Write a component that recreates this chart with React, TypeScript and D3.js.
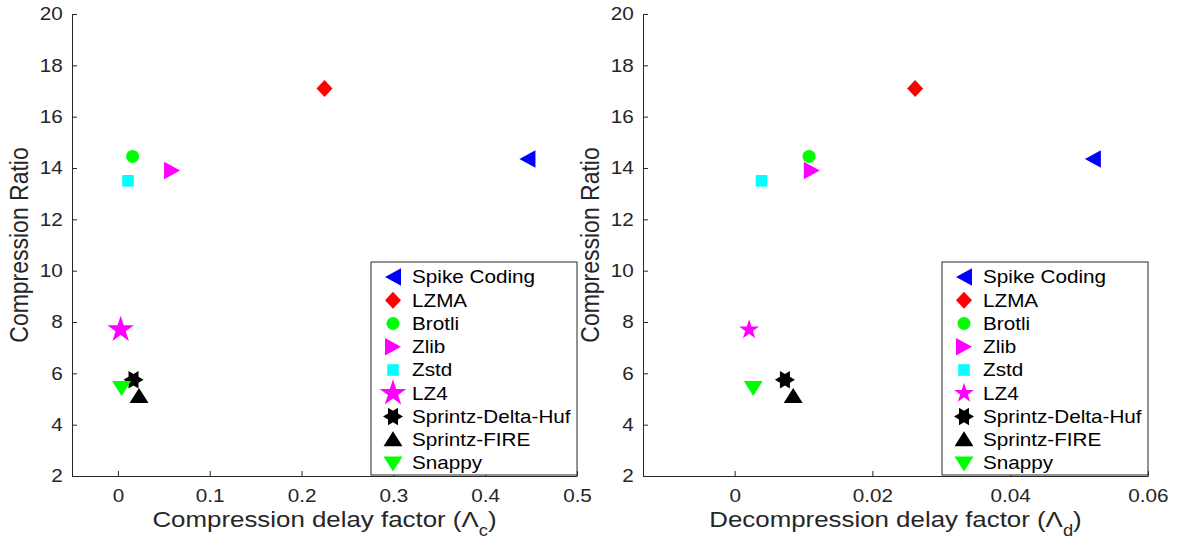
import React, { useEffect, useRef } from 'react';
import * as d3 from 'd3';

// methods, in legend order
const methods = ['Spike Coding', 'LZMA', 'Brotli', 'Zlib', 'Zstd', 'LZ4', 'Sprintz-Delta-Huf', 'Sprintz-FIRE', 'Snappy'];
const shapes = ['left', 'diamond', 'circle', 'right', 'square', 'star', 'hexagram', 'up', 'down'];
const colors = ['#0000ff', '#ff0000', '#00ff00', '#ff00ff', '#00ffff', '#ff00ff', '#000000', '#000000', '#00ff00'];

// y value shared by both panels
const compressionRatio = [14.35, 17.1, 14.45, 13.9, 13.5, 7.7, 5.75, 5.1, 5.45];
// x values
const compDelay = [0.446, 0.225, 0.016, 0.059, 0.011, 0.003, 0.017, 0.023, 0.004];
const decompDelay = [0.052, 0.0262, 0.0108, 0.0112, 0.0039, 0.0021, 0.0073, 0.0085, 0.0027];

const yTicks = [2, 4, 6, 8, 10, 12, 14, 16, 18, 20];
const compTicks = [0, 0.1, 0.2, 0.3, 0.4, 0.5];
const decompTicks = [0, 0.02, 0.04, 0.06];

const FONT = 'Liberation Sans, Arial, Helvetica, sans-serif';
const INK = '#262626';
const SX = 1.15; // text in the reference is a bit wider than tall

const poly = (pts: number[][]) => 'M' + pts.map(p => p.map(v => v.toFixed(2)).join(',')).join('L') + 'Z';

const radial = (n: number, outer: number, inner: number, start: number) => {
    const pts: number[][] = [];
    for (let i = 0; i < 2 * n; i++) {
        const a = start + (i * Math.PI) / n;
        const rr = i % 2 === 0 ? outer : inner;
        pts.push([rr * Math.cos(a), rr * Math.sin(a)]);
    }
    return pts;
};

const markerPath = (shape: string, starR: number) => {
    switch (shape) {
        case 'left': return poly([[-8, 0], [8, -8.7], [8, 8.7]]);
        case 'right': return poly([[8, 0], [-8, -8.7], [-8, 8.7]]);
        case 'up': return poly([[0, -8.5], [9.5, 6.5], [-9.5, 6.5]]);
        case 'down': return poly([[0, 8.5], [9.5, -6.5], [-9.5, -6.5]]);
        case 'diamond': return poly([[0, -8.5], [8, 0], [0, 8.5], [-8, 0]]);
        case 'square': return poly([[-5.8, -5.8], [5.8, -5.8], [5.8, 5.8], [-5.8, 5.8]]);
        case 'star': return poly(radial(5, starR, starR * 0.382, -Math.PI / 2));
        case 'hexagram': return poly(radial(6, 10, 10 / Math.sqrt(3), 0));
        default: return d3.symbol(d3.symbolCircle, Math.PI * 6.5 * 6.5)() as string;
    }
};

const Panel = ({ offset, xValues, xDomain, xTicks, xName, sub, starR }: any) => {
    const gRef = useRef<SVGGElement>(null);

    useEffect(() => {
        const g = d3.select(gRef.current);
        g.selectAll('*').remove();

        const left = offset + 72;
        const right = offset + 577;
        const top = 14;
        const bottom = 476;

        const x = d3.scaleLinear().domain(xDomain).range([left, right]);
        const y = d3.scaleLinear().domain([2, 20]).range([bottom, top]);

        const xAxis = d3.axisBottom(x)
            .tickValues(xTicks)
            .tickFormat((d: any) => String(d))
            .tickSize(-5)
            .tickSizeOuter(0)
            .tickPadding(13);
        const yAxis = d3.axisLeft(y)
            .tickValues(yTicks)
            .tickFormat((d: any) => String(d))
            .tickSize(-5)
            .tickSizeOuter(0)
            .tickPadding(8);

        const gx = g.append('g').attr('transform', `translate(0,${bottom})`).call(xAxis);
        const gy = g.append('g').attr('transform', `translate(${left},0)`).call(yAxis);

        [gx, gy].forEach(ax => {
            ax.select('.domain').attr('stroke', INK);
            ax.selectAll('.tick line').attr('stroke', INK);
            ax.selectAll('.tick text')
                .attr('fill', INK)
                .style('font-family', FONT)
                .style('font-size', '18px')
                .attr('transform', `scale(${SX},1)`);
        });
        // keep the scaled tick labels centred on their ticks
        gx.selectAll('.tick text').attr('x', 0);

        // axis titles
        g.append('text')
            .attr('transform', `translate(${offset + 28},${(top + bottom) / 2}) scale(${SX},1) rotate(-90)`)
            .attr('text-anchor', 'middle')
            .attr('fill', INK)
            .style('font-family', FONT)
            .style('font-size', '23px')
            .text('Compression Ratio');

        const xt = g.append('text')
            .attr('transform', `translate(${(left + right) / 2},527) scale(${SX},1)`)
            .attr('text-anchor', 'middle')
            .attr('fill', INK)
            .style('font-family', FONT)
            .style('font-size', '22.5px');
        xt.append('tspan').text(`${xName} (\u039B`);
        xt.append('tspan').attr('dy', 9).style('font-size', '16px').text(sub);
        xt.append('tspan').attr('dy', -9).text(')');

        // points
        g.selectAll('.pt')
            .data(methods)
            .join('path')
            .attr('class', 'pt')
            .attr('d', (_d, i) => markerPath(shapes[i], starR))
            .attr('transform', (_d, i) => `translate(${x(xValues[i])},${y(compressionRatio[i])})`)
            .attr('fill', (_d, i) => colors[i]);

        // legend
        const lg = g.append('g');
        const lx = offset + 371;
        lg.append('rect')
            .attr('x', lx)
            .attr('y', 262)
            .attr('width', 206)
            .attr('height', 213)
            .attr('fill', '#ffffff')
            .attr('stroke', INK)
            .attr('stroke-width', 1);

        const row = d3.scaleLinear().domain([0, methods.length - 1]).range([277, 463]);
        methods.forEach((m, i) => {
            lg.append('path')
                .attr('d', markerPath(shapes[i], starR))
                .attr('transform', `translate(${lx + 22},${row(i)})`)
                .attr('fill', colors[i]);
            lg.append('text')
                .attr('transform', `translate(${lx + 41},${row(i)}) scale(${SX},1)`)
                .attr('dy', '0.36em')
                .attr('fill', '#000000')
                .style('font-family', FONT)
                .style('font-size', '18px')
                .text(m);
        });
    }, [offset, xValues, xDomain, xTicks, xName, sub, starR]);

    return <g ref={gRef} />;
};

const App = () => {
    return (
        <div style={{ position: 'absolute', left: 0, top: 0, background: '#ffffff' }}>
            <svg width={1182} height={541} style={{ display: 'block' }}>
                <rect width={1182} height={541} fill="#ffffff" />
                <Panel offset={0} xValues={compDelay} xDomain={[-0.05, 0.5]} xTicks={compTicks}
                    xName="Compression delay factor" sub="c" starR={14} />
                <Panel offset={571} xValues={decompDelay} xDomain={[-0.0133, 0.06]} xTicks={decompTicks}
                    xName="Decompression delay factor" sub="d" starR={10.5} />
            </svg>
        </div>
    );
};

export default App;
